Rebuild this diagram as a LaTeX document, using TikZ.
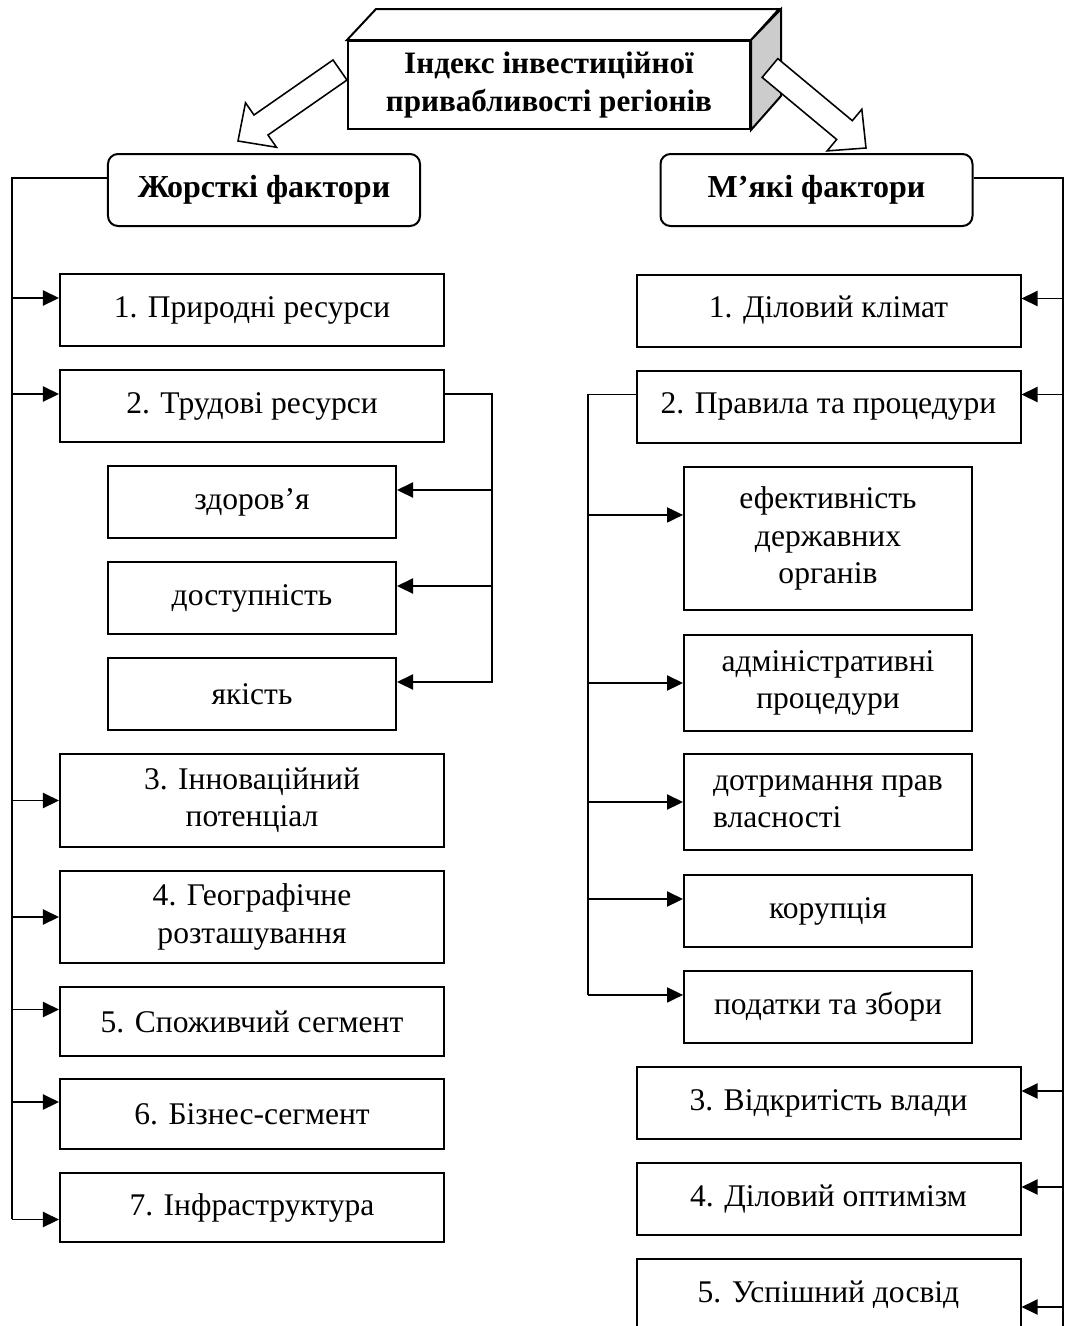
\documentclass[tikz,border=0pt]{standalone}
\usepackage{fontspec}
\setmainfont{Liberation Serif}
\usetikzlibrary{arrows.meta, calc}

\tikzset{
  txt/.style={font=\fontsize{14.2}{16.7}\selectfont},
  mainbox/.style={draw, line width=0.9pt, minimum width=172.8pt, minimum height=32.4pt,
    inner sep=1pt, align=center, txt},
  subbox/.style={mainbox, minimum width=129.6pt},
  headbox/.style={mainbox, rounded corners=4.5pt, minimum width=140.4pt,
    font=\bfseries\fontsize{14.4}{16.7}\selectfont},
  link/.style={line width=0.75pt},
  arr/.style={link, -{Triangle[length=7.2pt,width=6.8pt]}},
}

% hollow block arrow: #1 tail, #2 tip
\newcommand\hollowarrow[2]{%
  \coordinate (hb) at ($(#2)!12.6pt!(#1)$);
  \filldraw[fill=white, line width=0.7pt]
    ($(#1)!5.5pt!90:(#2)$) -- ($(hb)!5.5pt!-90:(#1)$) -- ($(hb)!12.2pt!-90:(#1)$) -- (#2)
    -- ($(hb)!12.2pt!90:(#1)$) -- ($(hb)!5.5pt!90:(#1)$) -- ($(#1)!5.5pt!-90:(#2)$) -- cycle;
}

\begin{document}
\begin{tikzpicture}[x=0.45pt, y=-0.45pt]
\useasboundingbox (0,0) rectangle (1065,1326);

% index box
\node[mainbox, fill=white, minimum width=180.9pt, minimum height=39.6pt,
  font=\bfseries\fontsize{14}{17}\selectfont] (index) at (549,85)
  {Індекс інвестиційної\\привабливості регіонів};
\filldraw[line width=0.9pt, fill=white] (index.north west) -- ++(29,-31) -- ++(403,0) -- (index.north east) -- cycle;
\filldraw[line width=0.9pt, fill=gray!40] (index.north east) -- ++(30,-31) -- ++(0,87) -- (index.south east) -- cycle;

\coordinate (lt) at (340,70);
\coordinate (lh) at (238,141);
\coordinate (rt) at (770,68);
\coordinate (rh) at (866,148);
\hollowarrow{lt}{lh}
\hollowarrow{rt}{rh}

% headings
\node[headbox] (hard) at (264,190) {Жорсткі фактори};
\node[headbox] (soft) at (816.5,190) {М’які фактори};

% hard factors
\node[mainbox] (b1) at (252,310) {1. Природні ресурси};
\node[mainbox] (b2) at (252,406) {2. Трудові ресурси};
\node[subbox] (t1) at (252,502) {здоров’я};
\node[subbox] (t2) at (252,598) {доступність};
\node[subbox] (t3) at (252,694) {якість};
\node[mainbox, minimum height=41.85pt] (b3) at (252,800.5) {3. Інноваційний\\потенціал};
\node[mainbox, minimum height=41.4pt] (b4) at (252,917) {4. Географічне\\розташування};
\node[mainbox, minimum height=31pt] (b5) at (252,1021.5) {5. Споживчий сегмент};
\node[mainbox, minimum height=31.5pt] (b6) at (252,1114) {6. Бізнес-сегмент};
\node[mainbox, minimum height=31pt] (b7) at (252,1207.5) {7. Інфраструктура};

% soft factors
\node[mainbox] (r1) at (828.5,310.5) {1. Діловий клімат};
\node[mainbox] (r2) at (828.5,406.5) {2. Правила та процедури};
\node[subbox, minimum height=64.35pt] (s1) at (828,538.5) {ефективність\\державних\\органів};
\node[subbox, minimum height=43.2pt] (s2) at (828,683) {адміністративні\\процедури};
\node[subbox, minimum height=43.2pt, align=left] (s3) at (828,802) {дотримання прав\\власності};
\node[subbox] (s4) at (828,911) {корупція};
\node[subbox] (s5) at (828,1006.5) {податки та збори};
\node[mainbox] (r3) at (828.5,1103) {3. Відкритість влади};
\node[mainbox] (r4) at (828.5,1199) {4. Діловий оптимізм};
\node[mainbox] (r5) at (828.5,1295) {5. Успішний досвід};

% left connectors
\coordinate (lspine) at (12,1219);
\draw[link] ([yshift=5.4pt]hard.west) -| (lspine);
\foreach \b/\s in {b1/5.4, b2/5.4, b3/0, b4/0, b5/5.4, b6/5.4, b7/-5.4}{
  \coordinate (e) at ([yshift=\s pt]\b.west);
  \draw[arr] (e -| lspine) -- (e);
}
\coordinate (tspine) at (492,683);
\draw[link] ([yshift=5.4pt]b2.east) -| (tspine);
\foreach \b in {t1, t2, t3}{
  \coordinate (e) at ([yshift=5.4pt]\b.east);
  \draw[arr] (e -| tspine) -- (e);
}

% right connectors
\coordinate (rspine) at (1063,1340);
\draw[link] ([yshift=5.4pt]soft.east) -| (rspine);
\foreach \b/\s in {r1/5.4, r2/5.4, r3/5.4, r4/5.4, r5/-5.4}{
  \coordinate (e) at ([yshift=\s pt]\b.east);
  \draw[arr] (e -| rspine) -- (e);
}
\coordinate (pspine) at (588,995);
\draw[link] ([yshift=5.4pt]r2.west) -| (pspine);
\foreach \b/\s in {s1/10.6, s2/0, s3/0, s4/5.4, s5/5.2}{
  \coordinate (e) at ([yshift=\s pt]\b.west);
  \draw[arr] (e -| pspine) -- (e);
}
\end{tikzpicture}
\end{document}
